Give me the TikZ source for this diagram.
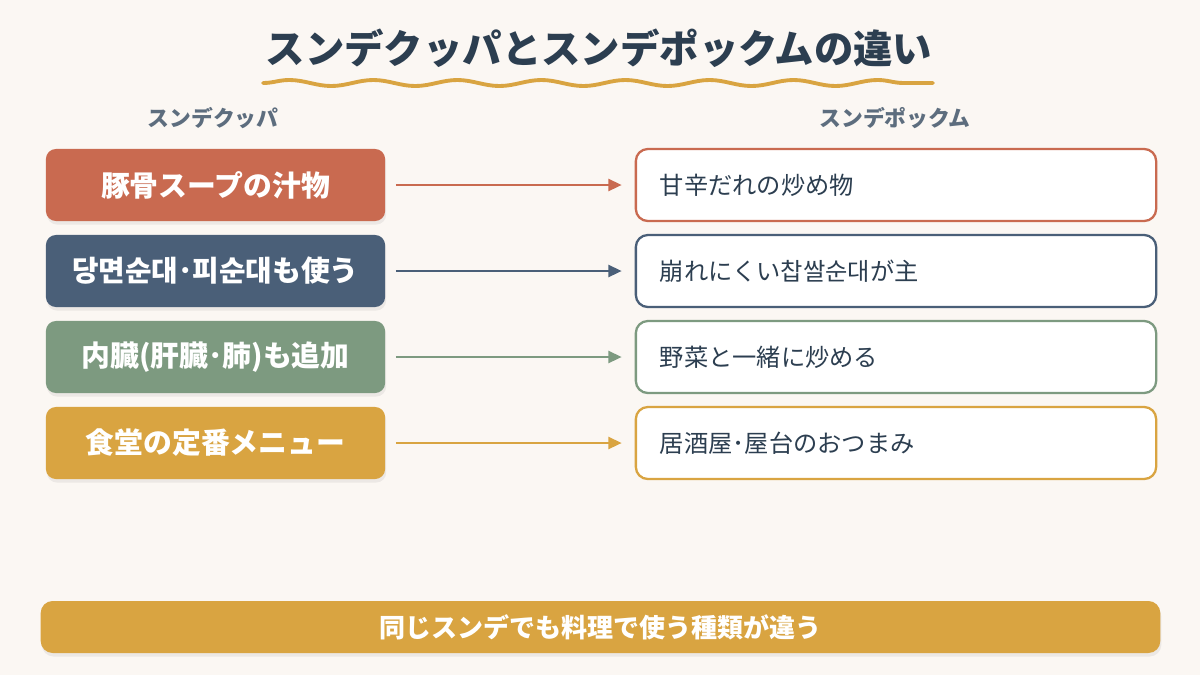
\documentclass[tikz,border=0pt]{standalone}
\usepackage{fontspec}
\setmainfont{Noto Sans CJK JP}
\usetikzlibrary{arrows.meta,shadows,decorations.pathmorphing}
\definecolor{bgc}{HTML}{FBF7F3}
\definecolor{navy}{HTML}{2C3E50}
\definecolor{subg}{HTML}{5D6D7E}
\definecolor{terra}{HTML}{C96A50}
\definecolor{slate}{HTML}{4A5F78}
\definecolor{sage}{HTML}{7D9A80}
\definecolor{gold}{HTML}{D9A441}
\tikzset{
  leftbox/.style={rounded corners=0.1cm, fill=#1, draw=none, minimum width=3.39cm, minimum height=0.72cm, text=white, font=\fontsize{8.2}{10}\selectfont\bfseries, drop shadow={opacity=0.12, shadow xshift=0.3pt, shadow yshift=-1pt}},
  rightbox/.style={rounded corners=0.12cm, fill=white, draw=#1, line width=0.65pt, minimum width=5.2cm, minimum height=0.72cm, text width=4.72cm, inner xsep=0.24cm, align=left, text=navy, font=\fontsize{6.9}{9}\selectfont},
  conn/.style={draw=#1, line width=0.7pt, -{Triangle[length=3.8pt,width=3.4pt]}, shorten <=0.1cm, shorten >=0.13cm},
  subhead/.style={text=subg, font=\fontsize{6.2}{8}\selectfont\bfseries},
}
\begin{document}
\begin{tikzpicture}[x=0.01cm,y=-0.01cm]
\fill[bgc] (0,0) rectangle (1200,675);
\useasboundingbox (0,0) rectangle (1200,675);
\node[text=navy, font=\fontsize{11.2}{13}\selectfont\bfseries] (title) at (599,48) {スンデクッパとスンデポックムの違い};
\draw[gold, line width=1.1pt, line cap=round, decorate, decoration={snake, segment length=0.84cm, amplitude=0.03cm}] (263,83) coordinate (wa) -- (933,83) coordinate (wb);
\node[subhead] (hl) at (213,118) {スンデクッパ};
\node[subhead] (hr) at (895,118) {スンデポックム};

\node[leftbox=terra] (l1) at (215.5,185) {豚骨スープの汁物};
\node[leftbox=slate] (l2) at (215.5,271) {당면순대･피순대も使う};
\node[leftbox=sage] (l3) at (215.5,357) {内臓(肝臓･肺)も追加};
\node[leftbox=gold] (l4) at (215.5,443) {食堂の定番メニュー};

\node[rightbox=terra] (r1) at (896,185) {甘辛だれの炒め物};
\node[rightbox=slate] (r2) at (896,271) {崩れにくい찹쌀순대が主};
\node[rightbox=sage] (r3) at (896,357) {野菜と一緒に炒める};
\node[rightbox=gold] (r4) at (896,443) {居酒屋･屋台のおつまみ};

\draw[conn=terra] (l1.east) -- (r1.west);
\draw[conn=slate] (l2.east) -- (r2.west);
\draw[conn=sage] (l3.east) -- (r3.west);
\draw[conn=gold] (l4.east) -- (r4.west);

\node[rounded corners=0.12cm, fill=gold, minimum width=11.19cm, minimum height=0.52cm, text=white, font=\fontsize{7.4}{9}\selectfont\bfseries, drop shadow={opacity=0.12, shadow xshift=0.3pt, shadow yshift=-1pt}] (note) at (600.5,627) {同じスンデでも料理で使う種類が違う};
\end{tikzpicture}
\end{document}
